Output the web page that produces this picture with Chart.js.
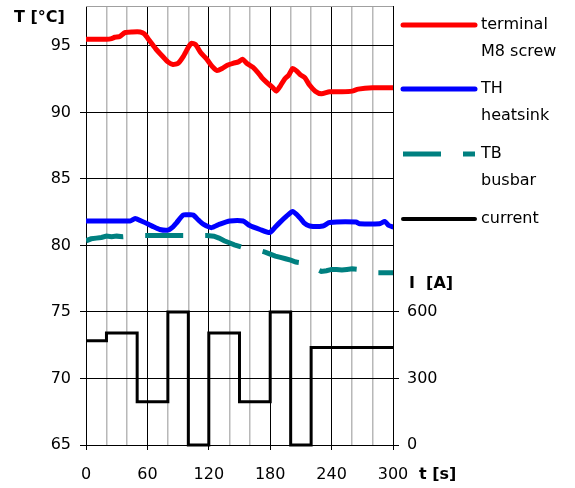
<!DOCTYPE html>
<html><head><meta charset="utf-8">
<script src="https://cdn.jsdelivr.net/npm/chart.js@4"></script>
<style>html,body{margin:0;padding:0;background:#fff}</style>
</head><body>
<canvas id="c" width="575" height="488"></canvas>
<script>
// ---- data ----
const timeTerminal = [0,10,20,25,28,33,38,45,53,57,62,68,75,80,85,90,95,100,103,107,112,118,124,128,133,138,144,149,153,157,163,168,172,176,182,186,190,194,198,202,206,210,214,218,224,230,238,250,260,266,280,300];
const tempTerminal = [95.5,95.5,95.5,95.55,95.65,95.7,96.0,96.05,96.05,95.9,95.4,94.8,94.2,93.8,93.6,93.7,94.2,94.9,95.2,95.1,94.5,94.0,93.4,93.15,93.3,93.55,93.7,93.8,94.0,93.7,93.4,93.0,92.6,92.3,91.9,91.6,92.0,92.5,92.8,93.3,93.1,92.8,92.6,92.1,91.6,91.4,91.55,91.55,91.6,91.75,91.85,91.85];

const timeHeatsink = [0,10,20,30,43,48,54,61,66,72,80,85,88.5,95,100,104.7,110,114.5,122.6,130.7,140.5,153.5,160,170,179.5,184,189,196,202,208.8,213,218.5,231.5,238,264,267,287,292,296,300];
const tempHeatsink = [81.84,81.84,81.84,81.84,81.84,82.02,81.84,81.6,81.4,81.2,81.15,81.4,81.7,82.29,82.3,82.29,81.9,81.6,81.34,81.6,81.84,81.84,81.5,81.2,80.97,81.3,81.7,82.2,82.55,82.1,81.7,81.46,81.46,81.72,81.76,81.64,81.64,81.8,81.5,81.4];

const timeBusbar = [0,5,10,15,20,25,30,36,45,55,60,70,80,90,95,100,110,118,125,130,135,140,145,153,160,170,175,180,185,190,195,200,205,210,220,230,235,240,245,250,255,260,267,275,285,290,300];
const tempBusbar = [80.35,80.5,80.55,80.6,80.7,80.65,80.7,80.65,80.7,80.75,80.75,80.75,80.75,80.75,80.75,80.75,80.75,80.75,80.7,80.55,80.35,80.2,80.05,79.85,79.75,79.6,79.5,79.35,79.2,79.1,79.0,78.9,78.75,78.7,78.4,78.05,78.1,78.2,78.2,78.15,78.2,78.25,78.2,78.05,77.95,77.95,77.95];

const timeCurrent = [0,20,50,80,100,120,150,180,200,220,300];
const current = [470,505,195,600,0,505,195,600,0,440,440];

const legendLabels = [["terminal","M8 screw"],["TH","heatsink"],["TB","busbar"],["current"]];
const tempTicks = [65,70,75,80,85,90,95];
const currentTicks = [0,300,600];
const timeLabels = [0,60,120,180,240,300];

const FONT = "DejaVu Sans";
const pts = (xs, ys) => xs.map((x, i) => ({x, y: ys[i]}));
const noPad = s => { s.paddingTop = 0; s.paddingBottom = 0; s.paddingLeft = 0; s.paddingRight = 0; };

const extras = {
  id: 'extras',
  afterDraw(chart) {
    const ctx = chart.ctx, a = chart.chartArea;
    ctx.save();
    ctx.strokeStyle = '#a0a0a0'; ctx.lineWidth = 1;
    ctx.beginPath(); ctx.moveTo(a.left, a.top + 0.5); ctx.lineTo(a.right, a.top + 0.5); ctx.stroke();
    ctx.fillStyle = '#000';
    ctx.font = 'bold 16px "' + FONT + '"';
    ctx.textBaseline = 'middle'; ctx.textAlign = 'left';
    ctx.fillText('T [°C]', 14, 18);
    ctx.fillText('I  [A]', 409, 284);
    ctx.fillText('t [s]', 419, 475);
    const ys = [25, 89, 154, 219];
    ctx.font = '16px "' + FONT + '"';
    chart.data.datasets.forEach((ds, i) => {
      const y = ys[i];
      ctx.strokeStyle = ds.borderColor;
      ctx.lineWidth = i === 3 ? 4 : 5;
      ctx.lineCap = ds.borderDash ? 'butt' : 'round';
      ctx.setLineDash(ds.borderDash ? [38, 22] : []);
      ctx.beginPath(); ctx.moveTo(403, y); ctx.lineTo(475, y); ctx.stroke();
      ctx.setLineDash([]);
      ctx.fillStyle = '#000';
      legendLabels[i].forEach((t, k) => ctx.fillText(t, 481, y + k * 26.5));
    });
    ctx.restore();
  }
};

new Chart(document.getElementById('c'), {
  type: 'line',
  data: {
    datasets: [
      {label: 'terminal M8 screw', data: pts(timeTerminal, tempTerminal), borderColor: '#ff0000', borderWidth: 5, pointRadius: 0, tension: 0.2, yAxisID: 'y', borderCapStyle: 'round', borderJoinStyle: 'round'},
      {label: 'TH heatsink', data: pts(timeHeatsink, tempHeatsink), borderColor: '#0000ff', borderWidth: 5, pointRadius: 0, tension: 0.2, yAxisID: 'y', borderCapStyle: 'round', borderJoinStyle: 'round'},
      {label: 'TB busbar', data: pts(timeBusbar, tempBusbar), borderColor: '#008080', borderWidth: 5, pointRadius: 0, tension: 0, yAxisID: 'y', borderDash: [38, 22]},
      {label: 'current', data: pts(timeCurrent, current), borderColor: '#000000', borderWidth: 3, pointRadius: 0, stepped: 'before', yAxisID: 'y1', clip: false}
    ]
  },
  options: {
    responsive: false,
    animation: false,
    devicePixelRatio: 1,
    layout: {padding: {top: 6, left: 0, right: 0, bottom: 0}},
    plugins: {legend: {display: false}, tooltip: {enabled: false}},
    scales: {
      x: {
        type: 'linear', min: 0, max: 300,
        afterFit(s) { s.height = 43; noPad(s); },
        afterBuildTicks(s) { s.ticks = []; for (let v = 0; v <= 300; v += 20) s.ticks.push({value: v}); },
        ticks: {
          autoSkip: false, maxRotation: 0, padding: 15, color: '#000',
          font: {family: FONT, size: 16},
          callback: v => timeLabels.includes(v) ? String(v) : ''
        },
        grid: {
          color: c => (c.tick && c.tick.value % 60 === 0) ? '#000' : '#b8b8b8',
          lineWidth: c => (c.tick && c.tick.value % 60 === 0) ? 1 : 1.5,
          tickColor: c => (c.tick && c.tick.value % 60 === 0) ? '#000' : 'rgba(0,0,0,0)',
          tickLength: 5
        },
        border: {color: '#000', width: 1}
      },
      y: {
        position: 'left', min: 65, max: 98,
        afterFit(s) { s.width = 86; noPad(s); },
        afterBuildTicks(s) { s.ticks = tempTicks.map(v => ({value: v})); },
        ticks: {padding: 9, color: '#000', font: {family: FONT, size: 16}},
        grid: {color: '#000', lineWidth: 1, tickLength: 6, tickColor: '#000'},
        border: {color: '#000', width: 1}
      },
      y1: {
        position: 'right', min: 0, max: 1980,
        afterFit(s) { s.width = 182; noPad(s); },
        afterBuildTicks(s) { s.ticks = currentTicks.map(v => ({value: v})); },
        ticks: {padding: 8, color: '#000', font: {family: FONT, size: 16}},
        grid: {drawOnChartArea: false, tickLength: 6, tickColor: '#000'},
        border: {color: '#000', width: 1}
      }
    }
  },
  plugins: [extras]
});
</script>
</body></html>
